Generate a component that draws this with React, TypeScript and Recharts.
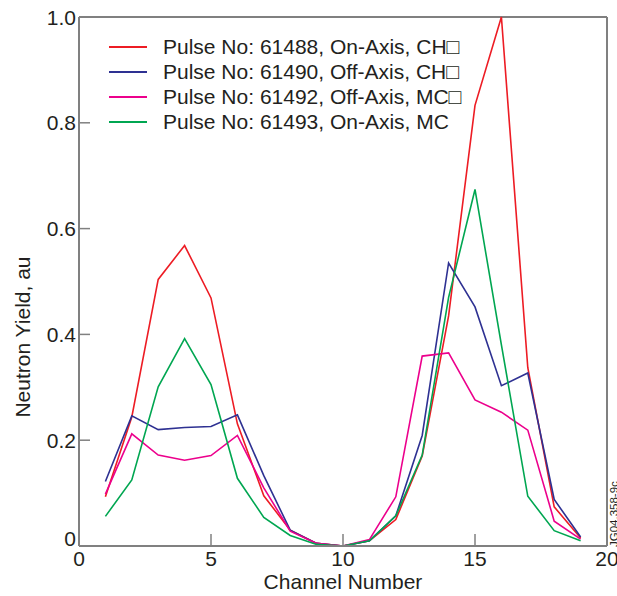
import { LineChart, Line, XAxis, YAxis, Legend, ReferenceLine, Label } from 'recharts';

const channels = [1, 2, 3, 4, 5, 6, 7, 8, 9, 10, 11, 12, 13, 14, 15, 16, 17, 18, 19];
const pulse61488 = [0.093, 0.244, 0.504, 0.568, 0.469, 0.231, 0.095, 0.03, 0.005, 0.0, 0.01, 0.05, 0.17, 0.435, 0.833, 1.0, 0.337, 0.074, 0.015];
const pulse61490 = [0.122, 0.246, 0.22, 0.224, 0.226, 0.248, 0.133, 0.03, 0.005, 0.0, 0.01, 0.057, 0.209, 0.535, 0.452, 0.303, 0.327, 0.088, 0.017];
const pulse61492 = [0.098, 0.212, 0.172, 0.162, 0.171, 0.209, 0.11, 0.028, 0.005, 0.0, 0.012, 0.093, 0.359, 0.365, 0.276, 0.253, 0.219, 0.047, 0.013];
const pulse61493 = [0.056, 0.125, 0.301, 0.392, 0.305, 0.128, 0.054, 0.02, 0.003, 0.0, 0.01, 0.057, 0.172, 0.47, 0.674, 0.38, 0.094, 0.029, 0.01];

const xTicks = [0, 5, 10, 15, 20];
const yTicks = [0, 0.2, 0.4, 0.6, 0.8, 1.0];

const SERIES = [
  { key: 'p61488', name: 'Pulse No: 61488, On-Axis, CH\u25A1', color: '#ed1c24' },
  { key: 'p61490', name: 'Pulse No: 61490, Off-Axis, CH\u25A1', color: '#2e3192' },
  { key: 'p61492', name: 'Pulse No: 61492, Off-Axis, MC\u25A1', color: '#ec008c' },
  { key: 'p61493', name: 'Pulse No: 61493, On-Axis, MC', color: '#00a651' },
];

const data = channels.map((ch, i) => ({
  ch,
  p61488: pulse61488[i],
  p61490: pulse61490[i],
  p61492: pulse61492[i],
  p61493: pulse61493[i],
}));

const FONT = '"Liberation Sans", Arial, Helvetica, sans-serif';
const AXIS = '#808080';
const TEXT = '#231f20';

function XTick(props: any) {
  const { x, y, payload } = props;
  const v = payload.value;
  return (
    <g>
      {v > 0 && v < 20 && <line x1={x} x2={x} y1={y} y2={y - 12} stroke={AXIS} strokeWidth={1.5} />}
      <text x={x} y={y + 19.5} textAnchor="middle" fontSize={21} fill={TEXT} fontFamily={FONT}>
        {v}
      </text>
    </g>
  );
}

function YTick(props: any) {
  const { x, y, payload } = props;
  const v = payload.value;
  return (
    <g>
      {v > 0 && v < 1 && <line x1={x} x2={x + 11} y1={y} y2={y} stroke={AXIS} strokeWidth={1.5} />}
      <text x={x - 3} y={y + 7.5 - (v === 0 ? 7.5 : 0)} textAnchor="end" fontSize={21} fill={TEXT} fontFamily={FONT}>
        {v === 0 ? '0' : v.toFixed(1)}
      </text>
    </g>
  );
}

function LegendBox(props: any) {
  const { payload } = props;
  return (
    <div style={{ fontFamily: FONT, fontSize: 21, color: TEXT }}>
      {payload.map((p: any) => (
        <div key={p.value} style={{ display: 'flex', alignItems: 'center', height: 25, whiteSpace: 'nowrap' }}>
          <span style={{ display: 'inline-block', width: 38, height: 2, background: p.color, marginRight: 16 }} />
          <span>{p.value}</span>
        </div>
      ))}
    </div>
  );
}

export default function App() {
  return (
    <div style={{ position: 'absolute', left: 0, top: 0, width: 617, height: 596, background: '#fff' }}>
      <LineChart width={617} height={596} data={data} margin={{ top: 17, right: 10, bottom: 0, left: 19 }}>
        <XAxis
          dataKey="ch"
          type="number"
          domain={[0, 20]}
          ticks={xTicks}
          height={50}
          tickSize={0}
          tickMargin={0}
          tickLine={false}
          axisLine={{ stroke: AXIS, strokeWidth: 2 }}
          tick={<XTick />}
          interval={0}
        >
          <Label
            content={(p: any) => {
              const vb = p.viewBox;
              return (
                <text x={vb.x + vb.width / 2} y={vb.y + 43} textAnchor="middle" fontSize={21} fill={TEXT} fontFamily={FONT}>
                  Channel Number
                </text>
              );
            }}
          />
        </XAxis>
        <YAxis
          type="number"
          domain={[0, 1]}
          ticks={yTicks}
          width={60}
          tickSize={0}
          tickMargin={0}
          tickLine={false}
          axisLine={{ stroke: AXIS, strokeWidth: 2 }}
          tick={<YTick />}
          interval={0}
        >
          <Label
            content={(p: any) => {
              const vb = p.viewBox;
              const cx = vb.x + 4;
              const cy = vb.y + vb.height * 0.605;
              return (
                <text
                  x={cx}
                  y={cy}
                  transform={`rotate(-90 ${cx} ${cy})`}
                  textAnchor="middle"
                  dominantBaseline="central"
                  fontSize={21}
                  fill={TEXT}
                  fontFamily={FONT}
                >
                  Neutron Yield, au
                </text>
              );
            }}
          />
        </YAxis>
        <ReferenceLine y={1} stroke={AXIS} strokeWidth={2} />
        <ReferenceLine
          x={20}
          stroke={AXIS}
          strokeWidth={2}
          label={(p: any) => {
            const vb = p.viewBox;
            const tx = vb.x + 11;
            const ty = vb.y + vb.height + 1;
            return (
              <text x={tx} y={ty} transform={`rotate(-90 ${tx} ${ty})`} fontSize={11.5} fill={TEXT} fontFamily={FONT}>
                JG04.358-9c
              </text>
            );
          }}
        />
        <Legend
          layout="vertical"
          align="center"
          verticalAlign="middle"
          wrapperStyle={{ left: 109, top: 34, width: 'auto' }}
          content={<LegendBox />}
        />
        {SERIES.map((s) => (
          <Line
            key={s.key}
            type="linear"
            dataKey={s.key}
            name={s.name}
            stroke={s.color}
            strokeWidth={1.6}
            dot={false}
            activeDot={false}
            isAnimationActive={false}
          />
        ))}
      </LineChart>
    </div>
  );
}
